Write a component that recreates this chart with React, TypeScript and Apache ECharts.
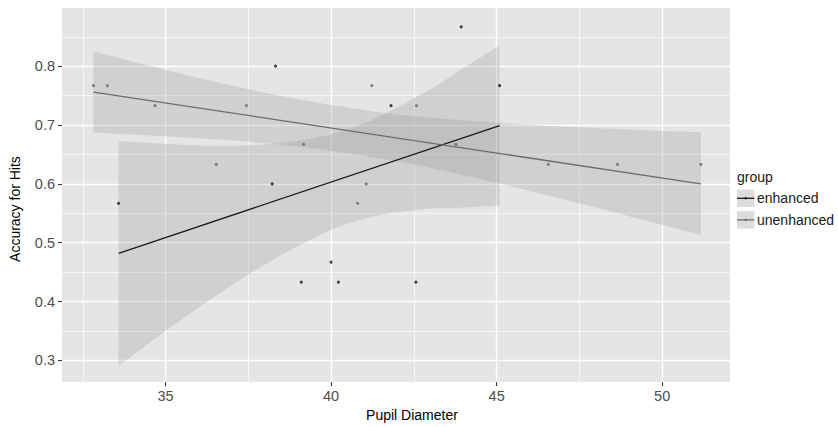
import { useEffect, useRef } from "react";
import * as echarts from "echarts";

// ---------- data ----------
const enhancedX = [33.58, 38.22, 38.32, 39.1, 40.0, 40.22, 41.81, 42.56, 43.93, 45.09];
const enhancedY = [0.567, 0.6, 0.8, 0.433, 0.467, 0.433, 0.733, 0.433, 0.867, 0.767];
const unenhancedX = [32.82, 33.24, 34.68, 36.53, 37.44, 39.17, 40.8, 41.06, 41.23, 42.58, 43.77, 46.56, 48.65, 51.17];
const unenhancedY = [0.767, 0.767, 0.733, 0.633, 0.733, 0.667, 0.567, 0.6, 0.767, 0.733, 0.667, 0.633, 0.633, 0.633];

const enhancedFitX = [33.58, 45.09];
const enhancedFitY = [0.482, 0.699];
const unenhancedFitX = [32.82, 51.17];
const unenhancedFitY = [0.756, 0.6];

const enhancedBandX = [33.58, 35, 36.5, 38, 39.5, 40.5, 41.5, 43, 44, 45.09];
const enhancedBandLow = [0.291, 0.35, 0.409, 0.463, 0.509, 0.532, 0.547, 0.558, 0.56, 0.563];
const enhancedBandHigh = [0.673, 0.668, 0.665, 0.667, 0.678, 0.693, 0.716, 0.761, 0.797, 0.835];

const unenhancedBandX = [32.82, 35, 37, 39, 40.5, 42, 44, 46, 48, 50, 51.17];
const unenhancedBandLow = [0.687, 0.681, 0.674, 0.663, 0.652, 0.638, 0.615, 0.588, 0.56, 0.53, 0.513];
const unenhancedBandHigh = [0.825, 0.794, 0.767, 0.744, 0.73, 0.718, 0.708, 0.7, 0.695, 0.69, 0.688];

const xTicks = [35, 40, 45, 50];
const xMinor = [32.5, 37.5, 42.5, 47.5];
const yTicks = [0.3, 0.4, 0.5, 0.6, 0.7, 0.8];
const yMinor = [0.35, 0.45, 0.55, 0.65, 0.75, 0.85];

const groups = ["enhanced", "unenhanced"];

// ---------- styles ----------
const FONT = "'Liberation Sans', Arial, Helvetica, sans-serif";
const ENH = "#1a1a1a";
const UNE = "#6b6b6b";
const BAND = "rgba(150,150,150,0.27)";

const zip = (xs: number[], ys: number[]) => xs.map((x, i) => [x, ys[i]]);

// Catmull-Rom to cubic bezier path segments through pixel points
function splineSegs(pts: number[][]): string {
  let d = "";
  const n = pts.length;
  for (let i = 0; i < n - 1; i++) {
    const p0 = pts[Math.max(0, i - 1)];
    const p1 = pts[i];
    const p2 = pts[i + 1];
    const p3 = pts[Math.min(n - 1, i + 2)];
    const c1x = p1[0] + (p2[0] - p0[0]) / 6;
    const c1y = p1[1] + (p2[1] - p0[1]) / 6;
    const c2x = p2[0] - (p3[0] - p1[0]) / 6;
    const c2y = p2[1] - (p3[1] - p1[1]) / 6;
    d += ` C${c1x},${c1y} ${c2x},${c2y} ${p2[0]},${p2[1]}`;
  }
  return d;
}

function bandSeries(name: string, xs: number[], lo: number[], hi: number[]) {
  return {
    type: "custom",
    name,
    silent: true,
    clip: true,
    z: 1,
    data: xs.map((x, i) => [x, lo[i], hi[i]]),
    renderItem: (params: any, api: any) => {
      if (params.dataIndex !== 0) return null;
      const upper = xs.map((x, i) => api.coord([x, hi[i]]));
      const lower = xs.map((x, i) => api.coord([x, lo[i]])).reverse();
      const d =
        `M${upper[0][0]},${upper[0][1]}` +
        splineSegs(upper) +
        ` L${lower[0][0]},${lower[0][1]}` +
        splineSegs(lower) +
        " Z";
      return { type: "path", shape: { pathData: d }, style: { fill: BAND, stroke: "none" } };
    },
  };
}

export default function App() {
  const ref = useRef<HTMLDivElement>(null);
  useEffect(() => {
    if (!ref.current) return;
    const chart = echarts.init(ref.current, undefined, { renderer: "svg" });

    const legendRow = (i: number, color: string) => {
      const cy = 198.3 + i * 21.6;
      return [
        { type: "rect", shape: { x: 737, y: cy - 8.7, width: 17.4, height: 17.4 }, style: { fill: "#DCDCDC" } },
        { type: "line", shape: { x1: 737, y1: cy, x2: 754.4, y2: cy }, style: { stroke: color, lineWidth: 1.3 } },
        { type: "circle", shape: { cx: 745.7, cy, r: 1.2 }, style: { fill: color } },
        {
          type: "text",
          x: 757,
          y: cy,
          style: { text: groups[i], fontSize: 14, fontFamily: FONT, fill: "#1a1a1a", verticalAlign: "middle", align: "left" },
        },
      ];
    };

    const option: any = {
      animation: false,
      backgroundColor: "#ffffff",
      grid: { left: 60, right: 108, top: 8, bottom: 41, show: true, backgroundColor: "#E5E5E5", borderWidth: 0 },
      xAxis: [
        {
          type: "value",
          min: 31.87,
          max: 52.05,
          axisLine: { show: false },
          axisTick: { show: true, length: 4, customValues: xTicks, lineStyle: { color: "#333333", width: 1.1 } },
          axisLabel: { customValues: xTicks, color: "#4d4d4d", fontSize: 14.5, fontFamily: FONT, margin: 6 },
          splitLine: { show: true, lineStyle: { color: "#ffffff", width: 1.4 } },
          name: "Pupil Diameter",
          nameLocation: "middle",
          nameGap: 24,
          nameTextStyle: { color: "#000000", fontSize: 14, fontFamily: FONT, padding: [0, 0, 0, 32] },
        },
        {
          type: "value",
          min: 31.87,
          max: 52.05,
          axisLine: { show: false },
          axisTick: { show: false, customValues: xMinor },
          axisLabel: { show: false, customValues: xMinor },
          splitLine: { show: true, lineStyle: { color: "#ffffff", width: 0.7 } },
        },
      ],
      yAxis: [
        {
          type: "value",
          min: 0.263,
          max: 0.899,
          axisLine: { show: false },
          axisTick: { show: true, length: 4, customValues: yTicks, lineStyle: { color: "#333333", width: 1.1 } },
          axisLabel: {
            customValues: yTicks,
            color: "#4d4d4d",
            fontSize: 14.5,
            fontFamily: FONT,
            margin: 7,
            formatter: (v: number) => v.toFixed(1),
          },
          splitLine: { show: true, lineStyle: { color: "#ffffff", width: 1.4 } },
          name: "Accuracy for Hits",
          nameLocation: "middle",
          nameGap: 40,
          nameTextStyle: { color: "#000000", fontSize: 14, fontFamily: FONT, padding: [0, 28, 0, 0] },
        },
        {
          type: "value",
          min: 0.263,
          max: 0.899,
          axisLine: { show: false },
          axisTick: { show: false, customValues: yMinor },
          axisLabel: { show: false, customValues: yMinor },
          splitLine: { show: true, lineStyle: { color: "#ffffff", width: 0.7 } },
        },
      ],
      series: [
        bandSeries("enhanced-band", enhancedBandX, enhancedBandLow, enhancedBandHigh),
        bandSeries("unenhanced-band", unenhancedBandX, unenhancedBandLow, unenhancedBandHigh),
        {
          type: "line",
          name: "enhanced",
          data: zip(enhancedFitX, enhancedFitY),
          symbol: "none",
          lineStyle: { color: ENH, width: 1.3 },
          z: 3,
        },
        {
          type: "line",
          name: "unenhanced",
          data: zip(unenhancedFitX, unenhancedFitY),
          symbol: "none",
          lineStyle: { color: UNE, width: 1.3 },
          z: 3,
        },
        {
          type: "scatter",
          name: "enhanced-pts",
          data: zip(enhancedX, enhancedY),
          symbolSize: 3.2,
          itemStyle: { color: ENH },
          z: 4,
        },
        {
          type: "scatter",
          name: "unenhanced-pts",
          data: zip(unenhancedX, unenhancedY),
          symbolSize: 3.2,
          itemStyle: { color: UNE },
          z: 4,
        },
      ],
      graphic: [
        {
          type: "text",
          x: 737,
          y: 176.7,
          style: { text: "group", fontSize: 14, fontFamily: FONT, fill: "#1a1a1a", verticalAlign: "middle", align: "left" },
        },
        ...legendRow(0, ENH),
        ...legendRow(1, UNE),
      ],
    };
    chart.setOption(option);
    return () => chart.dispose();
  }, []);
  return <div ref={ref} style={{ position: "absolute", left: 0, top: 0, width: 838, height: 427 }} />;
}
